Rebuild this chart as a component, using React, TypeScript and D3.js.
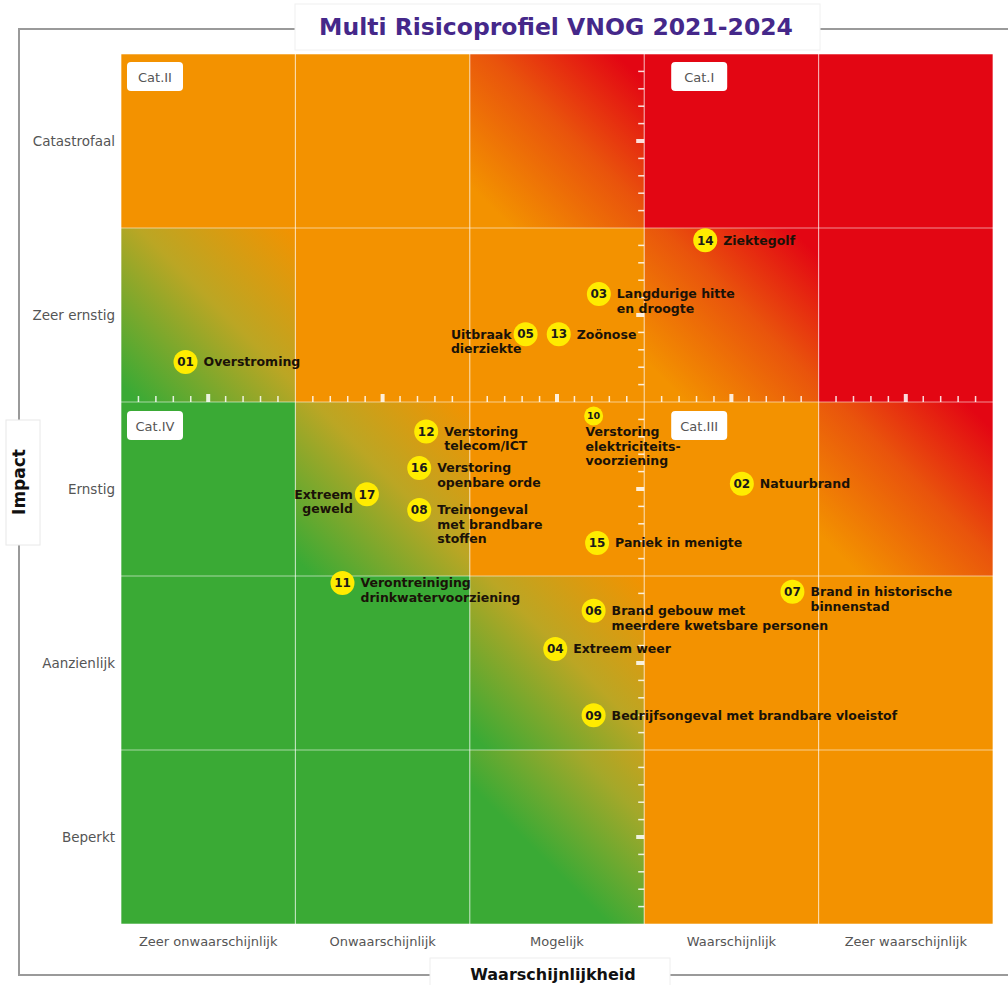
import React, { useEffect, useRef } from 'react';
import * as d3 from 'd3';

// axis categories
const likelihoodLabels = ['Zeer onwaarschijnlijk', 'Onwaarschijnlijk', 'Mogelijk', 'Waarschijnlijk', 'Zeer waarschijnlijk'];
const impactLabels = ['Beperkt', 'Aanzienlijk', 'Ernstig', 'Zeer ernstig', 'Catastrofaal'];

// colour zone of each cell, rows from Beperkt (bottom) to Catastrofaal (top)
const zoneRows = [
  ['G', 'G', 'GO2', 'O', 'O'],
  ['G', 'G', 'GO', 'O', 'O'],
  ['G', 'GO', 'O', 'O', 'OR'],
  ['GO', 'O', 'O', 'OR', 'R'],
  ['O', 'O', 'OR', 'R', 'R'],
];

// risks: likelihood and impact on a 1-5 scale (cell centres are whole numbers)
const riskIds = ['01', '02', '03', '04', '05', '06', '07', '08', '09', '10', '11', '12', '13', '14', '15', '16', '17'];
const riskNames = [
  ['Overstroming'],
  ['Natuurbrand'],
  ['Langdurige hitte', 'en droogte'],
  ['Extreem weer'],
  ['Uitbraak', 'dierziekte'],
  ['Brand gebouw met', 'meerdere kwetsbare personen'],
  ['Brand in historische', 'binnenstad'],
  ['Treinongeval', 'met brandbare', 'stoffen'],
  ['Bedrijfsongeval met brandbare vloeistof'],
  ['Verstoring', 'elektriciteits-', 'voorziening'],
  ['Verontreiniging', 'drinkwatervoorziening'],
  ['Verstoring', 'telecom/ICT'],
  ['Zoönose'],
  ['Ziektegolf'],
  ['Paniek in menigte'],
  ['Verstoring', 'openbare orde'],
  ['Extreem', 'geweld'],
];
const riskLikelihood = [0.87, 4.06, 3.24, 2.99, 2.82, 3.21, 4.35, 2.21, 3.21, 3.21, 1.77, 2.25, 3.01, 3.85, 3.23, 2.21, 1.91];
const riskImpact = [3.73, 3.03, 4.12, 2.08, 3.89, 2.30, 2.41, 2.88, 1.70, 3.42, 2.46, 3.33, 3.89, 4.43, 2.69, 3.12, 2.97];

const categoryLabels = ['Cat.I', 'Cat.II', 'Cat.III', 'Cat.IV'];

// label placement (layout only)
const labelSide: Record<string, string> = { '05': 'leftBlock', '17': 'left', '10': 'below' };

const GREEN = '#3aaa35';
const ORANGE = '#f39200';
const RED = '#e30613';

const App = () => {
  const ref = useRef<SVGSVGElement>(null);

  useEffect(() => {
    const W = 1008;
    const H = 985;
    const left = 121, right = 993, top = 54, bottom = 924;

    const svg = d3.select(ref.current);
    svg.selectAll('*').remove();

    const x = d3.scaleLinear().domain([0.5, 5.5]).range([left, right]);
    const y = d3.scaleLinear().domain([0.5, 5.5]).range([bottom, top]);
    const xb = d3.scaleBand().domain(likelihoodLabels).range([left, right]);
    const yb = d3.scaleBand().domain(impactLabels.slice().reverse()).range([top, bottom]);

    const defs = svg.append('defs');
    const grad = (id: string, stops: [number, string][]) => {
      const g = defs.append('linearGradient').attr('id', id)
        .attr('x1', 0).attr('y1', 1).attr('x2', 1).attr('y2', 0);
      stops.forEach(([o, c]) => g.append('stop').attr('offset', o).attr('stop-color', c));
    };
    grad('GO', [[0.05, GREEN], [0.55, '#bba624'], [1, ORANGE]]);
    grad('GO2', [[0.4, GREEN], [0.8, '#a3a82a'], [1, '#c8a21c']]);
    grad('OR', [[0.12, ORANGE], [0.55, '#e9540c'], [0.92, RED]]);
    const zoneFill: Record<string, string> = { G: GREEN, O: ORANGE, R: RED, GO: 'url(#GO)', GO2: 'url(#GO2)', OR: 'url(#OR)' };

    // outer frame
    svg.append('rect').attr('x', 19).attr('y', 29).attr('width', 1000).attr('height', 946)
      .attr('fill', 'none').attr('stroke', '#9a9a9a').attr('stroke-width', 2);

    // cells
    zoneRows.forEach((row, r) => {
      row.forEach((z, c) => {
        svg.append('rect')
          .attr('x', xb(likelihoodLabels[c])!)
          .attr('y', yb(impactLabels[r])!)
          .attr('width', xb.bandwidth())
          .attr('height', yb.bandwidth())
          .attr('fill', zoneFill[z]);
      });
    });

    // grid
    const bounds = d3.range(0, 6).map(i => i + 0.5);
    bounds.forEach(b => {
      svg.append('line').attr('x1', x(b)).attr('x2', x(b)).attr('y1', top).attr('y2', bottom)
        .attr('stroke', '#fff').attr('stroke-opacity', 0.55).attr('stroke-width', 1.2);
      svg.append('line').attr('y1', y(b)).attr('y2', y(b)).attr('x1', left).attr('x2', right)
        .attr('stroke', '#fff').attr('stroke-opacity', 0.55).attr('stroke-width', 1.2);
    });

    // tick marks on the central category borders
    const tickVals = d3.range(6, 55).filter(i => i % 10 !== 5);
    const midY = y(3.5);
    const midX = x(3.5);
    tickVals.forEach(i => {
      const v = i / 10;
      const major = i % 10 === 0;
      svg.append('rect')
        .attr('x', x(v) - (major ? 2 : 0.75)).attr('y', midY - (major ? 8 : 6))
        .attr('width', major ? 4 : 1.5).attr('height', major ? 8 : 6)
        .attr('fill', '#fff').attr('opacity', 0.85);
      svg.append('rect')
        .attr('y', y(v) - (major ? 2 : 0.75)).attr('x', midX - (major ? 8 : 6))
        .attr('height', major ? 4 : 1.5).attr('width', major ? 8 : 6)
        .attr('fill', '#fff').attr('opacity', 0.85);
    });

    // category boxes
    const catPos = [
      [x(3.5) + 27, y(5.5) + 8],
      [x(0.5) + 6, y(5.5) + 8],
      [x(3.5) + 27, y(3.5) + 9],
      [x(0.5) + 6, y(3.5) + 9],
    ];
    categoryLabels.forEach((t, i) => {
      const [cx, cy] = catPos[i];
      svg.append('rect').attr('x', cx).attr('y', cy).attr('width', 56).attr('height', 29)
        .attr('rx', 4).attr('fill', '#fff');
      svg.append('text').attr('x', cx + 28).attr('y', cy + 15).attr('dy', '0.35em')
        .attr('text-anchor', 'middle').attr('font-family', 'DejaVu Sans').attr('font-size', 13)
        .attr('fill', '#555').text(t);
    });

    // axis labels
    impactLabels.forEach(t => {
      svg.append('text').attr('x', left - 6).attr('y', yb(t)! + yb.bandwidth() / 2).attr('dy', '0.35em')
        .attr('text-anchor', 'end').attr('font-family', 'DejaVu Sans').attr('font-size', 13.5)
        .attr('fill', '#555').text(t);
    });
    likelihoodLabels.forEach(t => {
      svg.append('text').attr('x', xb(t)! + xb.bandwidth() / 2).attr('y', 946)
        .attr('text-anchor', 'middle').attr('font-family', 'DejaVu Sans').attr('font-size', 13)
        .attr('fill', '#555').text(t);
    });

    // risks
    const labelFont = 12.5;
    const lineH = 14.5;
    riskIds.forEach((id, i) => {
      const cx = x(riskLikelihood[i]);
      const cy = y(riskImpact[i]);
      const small = id === '10';
      const r = small ? 9.5 : 12;
      svg.append('circle').attr('cx', cx).attr('cy', cy).attr('r', r).attr('fill', '#ffec00');
      svg.append('text').attr('x', cx).attr('y', cy).attr('dy', '0.36em')
        .attr('text-anchor', 'middle').attr('font-family', 'DejaVu Sans').attr('font-weight', 'bold')
        .attr('font-size', small ? 9.5 : 12).attr('fill', '#1a1a1a').text(id);

      const side = labelSide[id] || 'right';
      const lines = riskNames[i];
      const g = svg.append('g').attr('font-family', 'DejaVu Sans').attr('font-weight', 'bold')
        .attr('font-size', labelFont).attr('fill', '#1a1208');
      if (side === 'right') {
        lines.forEach((l, k) => g.append('text').attr('x', cx + 18).attr('y', cy + k * lineH).attr('dy', '0.35em').text(l));
      } else if (side === 'left') {
        lines.forEach((l, k) => g.append('text').attr('x', cx - 14).attr('y', cy + k * lineH)
          .attr('dy', '0.35em').attr('text-anchor', 'end').text(l));
      } else if (side === 'leftBlock') {
        const first = g.append('text').attr('x', cx - 14).attr('y', cy).attr('dy', '0.35em')
          .attr('text-anchor', 'end').text(lines[0]);
        const w = (first.node() as SVGTextElement).getComputedTextLength();
        lines.slice(1).forEach((l, k) => g.append('text').attr('x', cx - 14 - w).attr('y', cy + (k + 1) * lineH)
          .attr('dy', '0.35em').text(l));
      } else {
        lines.forEach((l, k) => g.append('text').attr('x', cx - 8).attr('y', cy + 16 + k * lineH).attr('dy', '0.35em').text(l));
      }
    });

    // title
    svg.append('rect').attr('x', 295).attr('y', 4).attr('width', 525).attr('height', 46)
      .attr('fill', '#fff').attr('stroke', '#f0f0f0');
    svg.append('text').attr('x', 556).attr('y', 35).attr('text-anchor', 'middle')
      .attr('font-family', 'DejaVu Sans').attr('font-weight', 'bold').attr('font-size', 23.5)
      .attr('fill', '#45288a').text('Multi Risicoprofiel VNOG 2021-2024');

    // y axis title
    svg.append('rect').attr('x', 6).attr('y', 420).attr('width', 34).attr('height', 125)
      .attr('fill', '#fff').attr('stroke', '#e8e8e8');
    svg.append('text').attr('transform', 'translate(25,482) rotate(-90)').attr('text-anchor', 'middle')
      .attr('font-family', 'DejaVu Sans').attr('font-weight', 'bold').attr('font-size', 17)
      .attr('fill', '#111').text('Impact');

    // x axis title
    svg.append('rect').attr('x', 430).attr('y', 958).attr('width', 240).attr('height', 40)
      .attr('fill', '#fff').attr('stroke', '#eeeeee');
    svg.append('text').attr('x', 553).attr('y', 980).attr('text-anchor', 'middle')
      .attr('font-family', 'DejaVu Sans').attr('font-weight', 'bold').attr('font-size', 16)
      .attr('fill', '#111').text('Waarschijnlijkheid');

    svg.attr('width', W).attr('height', H);
  }, []);

  return (
    <div style={{ position: 'absolute', left: 0, top: 0, width: 1008, height: 985, background: '#fff' }}>
      <svg ref={ref} width={1008} height={985} style={{ display: 'block' }}></svg>
    </div>
  );
};

export default App;
